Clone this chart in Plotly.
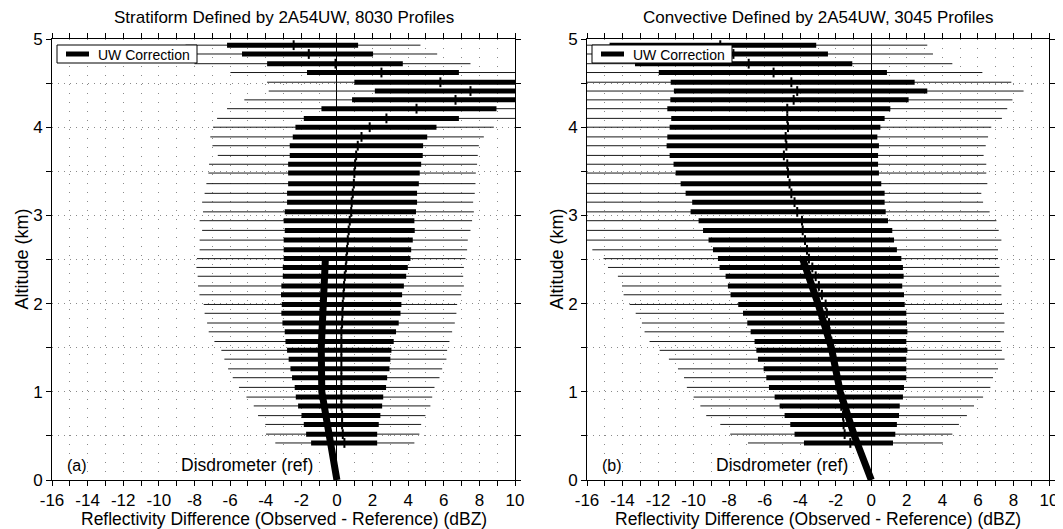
import plotly.graph_objects as go

# ---------------- data ----------------
altitude_km = [4.93, 4.83, 4.72, 4.62, 4.51, 4.41, 4.31, 4.21, 4.10, 4.00, 3.89, 3.79,
               3.68, 3.58, 3.48, 3.36, 3.25, 3.15, 3.04, 2.94, 2.83, 2.72, 2.61, 2.51,
               2.41, 2.31, 2.20, 2.10, 1.99, 1.89, 1.78, 1.68, 1.57, 1.47, 1.37, 1.26,
               1.16, 1.05, 0.94, 0.84, 0.73, 0.63, 0.52, 0.42]

# Panel (a) Stratiform
strat_thin_lo = [-8.5, -8.3, -8.0, -5.98, -3.92, -3.83, -5.20, -6.17, -6.73, -6.96, -7.11, -6.99,
                 -6.69, -7.18, -7.22, -7.33, -7.43, -7.57, -7.52, -7.71, -7.57, -7.71, -7.71, -7.86,
                 -7.89, -7.82, -7.80, -7.72, -7.48, -7.43, -7.29, -7.20, -6.88, -6.49, -6.32, -6.11,
                 -5.85, -5.50, -5.08, -4.67, -4.43, -4.02, -3.98, -3.46]
strat_thin_hi = [4.69, 5.63, 7.50, 10.5, 10.5, 10.5, 10.5, 10.5, 10.5, 8.81, 8.25, 7.97,
                 7.91, 7.87, 7.80, 7.78, 7.74, 7.65, 7.69, 7.59, 7.50, 7.35, 7.31, 7.22,
                 7.13, 7.09, 7.13, 6.98, 6.75, 6.71, 6.62, 6.47, 6.32, 6.19, 6.15, 5.91,
                 5.76, 5.48, 5.35, 5.25, 4.97, 4.73, 4.63, 4.35]
strat_box_lo = [-6.17, -5.33, -3.92, -1.68, 0.98, 2.13, 0.85, -0.87, -1.86, -2.33, -2.48, -2.65,
                -2.65, -2.74, -2.74, -2.74, -2.80, -2.80, -2.93, -2.99, -2.93, -2.99, -2.99, -2.99,
                -3.04, -3.04, -3.12, -3.14, -3.10, -3.12, -3.06, -2.93, -2.89, -2.80, -2.71, -2.61,
                -2.52, -2.37, -2.31, -2.18, -1.99, -1.86, -1.73, -1.45]
strat_box_hi = [1.19, 2.03, 3.70, 6.85, 10.5, 10.5, 10.5, 8.96, 6.85, 5.59, 5.07, 4.84,
                4.82, 4.73, 4.65, 4.60, 4.50, 4.50, 4.44, 4.35, 4.37, 4.26, 4.17, 4.13,
                3.98, 3.89, 3.76, 3.66, 3.62, 3.57, 3.47, 3.32, 3.19, 3.06, 3.00, 2.95,
                2.82, 2.76, 2.60, 2.54, 2.44, 2.35, 2.26, 2.26]
strat_median = [-2.43, -1.58, -0.08, 2.50, 5.81, 7.50, 6.66, 4.47, 2.78, 1.84, 1.38, 1.17,
                1.08, 1.02, 0.98, 0.95, 0.89, 0.83, 0.80, 0.72, 0.66, 0.61, 0.57, 0.53,
                0.50, 0.44, 0.40, 0.37, 0.33, 0.31, 0.29, 0.25, 0.25, 0.25, 0.25, 0.25,
                0.25, 0.25, 0.25, 0.25, 0.29, 0.29, 0.33, 0.42]

# Panel (b) Convective
conv_thin_lo = [-16.5, -16.5, -16.5, -16.5, -16.5, -16.5, -16.5, -16.5, -16.5, -16.5, -16.5, -16.5,
                -16.5, -16.5, -16.5, -16.5, -16.5, -16.5, -16.5, -16.5, -16.5, -16.5, -15.70, -15.07,
                -14.82, -14.26, -14.03, -13.94, -13.60, -13.26, -12.91, -12.76, -12.48, -11.91, -11.39, -10.88,
                -10.54, -10.38, -10.00, -9.62, -9.29, -8.50, -7.94, -6.94]
conv_thin_hi = [3.15, 3.47, 4.56, 6.25, 7.88, 8.57, 7.94, 7.65, 7.35, 6.75, 6.57, 6.44,
                6.32, 6.47, 6.47, 6.53, 6.19, 6.29, 6.66, 7.04, 7.17, 7.32, 7.13, 7.13,
                7.22, 7.19, 7.32, 7.32, 7.35, 7.47, 7.50, 7.47, 7.28, 7.35, 7.50, 7.13,
                6.85, 6.70, 6.29, 5.78, 5.38, 4.93, 4.56, 4.03]
conv_box_lo = [-14.73, -14.0, -13.3, -11.96, -11.29, -11.11, -11.31, -11.48, -11.26, -11.35, -11.48, -11.52,
               -11.35, -11.13, -11.01, -10.73, -10.45, -10.08, -10.17, -9.72, -9.47, -9.16, -8.91, -8.63,
               -8.54, -8.20, -8.07, -7.92, -7.49, -7.22, -6.98, -6.79, -6.57, -6.47, -6.38, -6.06,
               -5.91, -5.76, -5.44, -5.16, -4.88, -4.56, -4.32, -3.79]
conv_box_hi = [-3.10, -2.44, -1.07, 0.88, 2.44, 3.15, 2.10, 1.07, 0.75, 0.51, 0.34, 0.43,
               0.38, 0.38, 0.43, 0.56, 0.75, 0.75, 0.81, 0.94, 1.18, 1.28, 1.44, 1.69,
               1.78, 1.82, 1.74, 1.84, 1.88, 1.97, 2.01, 2.03, 1.97, 2.03, 1.97, 1.97,
               1.97, 1.84, 1.78, 1.60, 1.56, 1.44, 1.35, 1.22]
conv_median = [-8.50, -7.76, -6.90, -5.50, -4.50, -4.17, -4.37, -4.73, -4.73, -4.69, -4.82, -4.78,
               -4.92, -4.73, -4.69, -4.60, -4.50, -4.32, -4.17, -3.90, -3.86, -3.73, -3.62, -3.51,
               -3.32, -3.13, -2.95, -2.78, -2.57, -2.50, -2.38, -2.35, -2.25, -2.16, -2.06, -2.00,
               -1.95, -1.88, -1.74, -1.69, -1.59, -1.56, -1.50, -1.18]

# UW correction curves
uw_alt = [0.0, 0.5, 1.0, 1.5, 2.0, 2.5]
uw_strat = [0.0, -0.45, -0.85, -0.88, -0.80, -0.65]
uw_conv = [0.0, -0.95, -1.75, -2.25, -3.00, -3.85]

x_tick_vals = [-16, -14, -12, -10, -8, -6, -4, -2, 0, 2, 4, 6, 8, 10]
x_tick_text = ["-16", "-14", "-12", "-10", "-8", "-6", "-4", "-2", "0", "2", "4", "6", "8", "10"]
y_tick_vals = [0, 1, 2, 3, 4, 5]
y_tick_text = ["0", "1", "2", "3", "4", "5"]

titles = ["Stratiform Defined by 2A54UW, 8030 Profiles",
          "Convective Defined by 2A54UW, 3045 Profiles"]
panel_tags = ["(a)", "(b)"]
x_title = "Reflectivity Difference (Observed - Reference) (dBZ)"
y_title = "Altitude (km)"
legend_label = "UW Correction"
ref_label = "Disdrometer (ref)"

# ---------------- layout geometry ----------------
# The page body has an 8px margin, so the figure is drawn 8px in from the window corner.
OFF = 8
W, H = 1063 - OFF, 529 - OFF
FONT = "Liberation Sans, Arial, Helvetica, sans-serif"


def px_x(p):
    return (p - OFF) / W


def px_y(p):
    return (H - (p - OFF)) / H


plot_top, plot_bottom = 39, 480
panels = [(52, 515), (587, 1049)]


def segs(lo, hi, alt):
    xs, ys = [], []
    for a, b, y in zip(lo, hi, alt):
        xs += [a, b, None]
        ys += [y, y, None]
    return xs, ys


fig = go.Figure()

datasets = [
    (strat_thin_lo, strat_thin_hi, strat_box_lo, strat_box_hi, strat_median, uw_strat),
    (conv_thin_lo, conv_thin_hi, conv_box_lo, conv_box_hi, conv_median, uw_conv),
]

for i, (tlo, thi, blo, bhi, med, uw) in enumerate(datasets):
    xa = "x" if i == 0 else "x2"
    ya = "y" if i == 0 else "y2"
    xs, ys = segs(tlo, thi, altitude_km)
    fig.add_trace(go.Scatter(x=xs, y=ys, mode="lines", line=dict(color="#1a1a1a", width=1),
                             xaxis=xa, yaxis=ya, showlegend=False, hoverinfo="skip"))
    xs, ys = segs(blo, bhi, altitude_km)
    fig.add_trace(go.Scatter(x=xs, y=ys, mode="lines", line=dict(color="black", width=5),
                             xaxis=xa, yaxis=ya, showlegend=False, hoverinfo="skip"))
    fig.add_trace(go.Scatter(x=med, y=altitude_km, mode="markers",
                             marker=dict(symbol="line-ns", size=7,
                                         line=dict(color="black", width=2)),
                             xaxis=xa, yaxis=ya, showlegend=False, hoverinfo="skip"))
    fig.add_trace(go.Scatter(x=uw, y=uw_alt, mode="lines", line=dict(color="black", width=7),
                             xaxis=xa, yaxis=ya, showlegend=False, name=legend_label))

axis_common = dict(
    showline=True, linecolor="black", linewidth=1, mirror="ticks",
    ticks="outside", ticklen=5, tickwidth=1, tickcolor="black",
    tickfont=dict(family=FONT, size=17, color="black"),
    showgrid=True, gridcolor="#8a8a8a", gridwidth=1,
    automargin=False, fixedrange=True,
)

for i, (x0, x1) in enumerate(panels):
    sfx = "" if i == 0 else "2"
    fig.update_layout(**{
        "xaxis" + sfx: dict(
            axis_common, domain=[px_x(x0), px_x(x1)], range=[-16, 10],
            anchor="y" + sfx, tickmode="array", tickvals=x_tick_vals, ticktext=x_tick_text,
            griddash="1px,8px",
            zeroline=True, zerolinecolor="black", zerolinewidth=1,
            minor=dict(tickmode="linear", tick0=0, dtick=1, ticks="outside", ticklen=5,
                       tickcolor="black", showgrid=True, gridcolor="#8a8a8a",
                       griddash="1px,8px"),
        ),
        "yaxis" + sfx: dict(
            axis_common, domain=[px_y(plot_bottom), px_y(plot_top)], range=[0, 5],
            anchor="x" + sfx, tickmode="array", tickvals=y_tick_vals, ticktext=y_tick_text,
            griddash="1px,5px", zeroline=False,
            minor=dict(tickmode="linear", tick0=0, dtick=0.5, ticks="outside", ticklen=5,
                       tickcolor="black", showgrid=True, gridcolor="#8a8a8a",
                       griddash="1px,5px"),
        ),
    })

annotations = []
shapes = []
for i, (x0, x1) in enumerate(panels):
    cx = (x0 + x1) / 2
    annotations.append(dict(text=titles[i], x=px_x(cx), y=px_y(17.5), xref="paper", yref="paper",
                            showarrow=False, xanchor="center", yanchor="middle",
                            font=dict(family=FONT, size=17, color="black")))
    annotations.append(dict(text=x_title, x=px_x(cx), y=px_y(519), xref="paper", yref="paper",
                            showarrow=False, xanchor="center", yanchor="middle",
                            font=dict(family=FONT, size=17.5, color="black")))
    annotations.append(dict(text=y_title, x=px_x(x0 - 30), y=px_y((plot_top + plot_bottom) / 2),
                            xref="paper", yref="paper", textangle=-90,
                            showarrow=False, xanchor="center", yanchor="middle",
                            font=dict(family=FONT, size=18, color="black")))
    annotations.append(dict(text=panel_tags[i], x=px_x(x0 + 13), y=px_y(465), xref="paper",
                            yref="paper", showarrow=False, xanchor="left", yanchor="middle",
                            font=dict(family=FONT, size=16, color="black")))
    annotations.append(dict(text=ref_label, x=px_x(x0 + 195), y=px_y(465), xref="paper",
                            yref="paper", showarrow=False, xanchor="center", yanchor="middle",
                            font=dict(family=FONT, size=17.5, color="black")))
    # legend box
    lx0, lx1, ly0, ly1 = x0 + 5, x0 + 145, 45, 63
    shapes.append(dict(type="rect", xref="paper", yref="paper",
                       x0=px_x(lx0), x1=px_x(lx1), y0=px_y(ly1), y1=px_y(ly0),
                       fillcolor="white", line=dict(color="black", width=1), layer="above"))
    shapes.append(dict(type="line", xref="paper", yref="paper",
                       x0=px_x(lx0 + 9), x1=px_x(lx0 + 32), y0=px_y(54), y1=px_y(54),
                       line=dict(color="black", width=5), layer="above"))
    annotations.append(dict(text=legend_label, x=px_x(lx0 + 39), y=px_y(54.5), xref="paper",
                            yref="paper", showarrow=False, xanchor="left", yanchor="middle",
                            font=dict(family=FONT, size=14, color="black")))

fig.update_layout(
    width=W, height=H, margin=dict(l=0, r=0, t=0, b=0),
    paper_bgcolor="white", plot_bgcolor="white",
    showlegend=False, annotations=annotations, shapes=shapes,
    font=dict(family=FONT, color="black"),
)

fig.write_html("out.html")
